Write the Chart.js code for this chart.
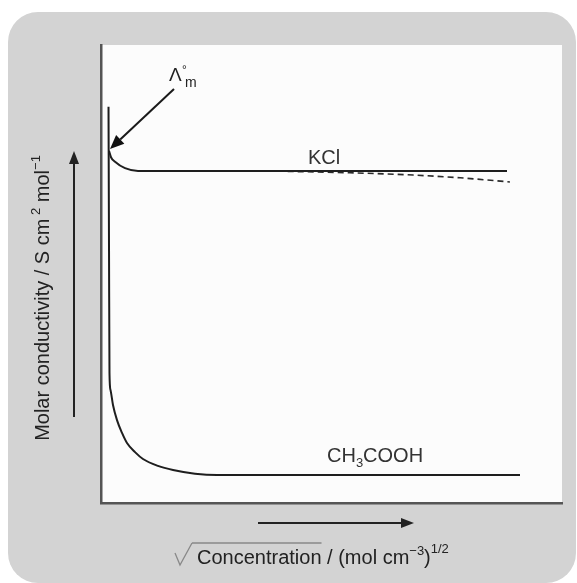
<!DOCTYPE html>
<html>
<head>
<meta charset="utf-8">
<script src="https://cdn.jsdelivr.net/npm/chart.js@4"></script>
<style>
  html, body { margin: 0; padding: 0; background: #fff; }
  canvas { display: block; }
</style>
</head>
<body>
<canvas id="chart" width="577" height="583"></canvas>
<script>
// Values, both axes in arbitrary units (0-100)
const ch3coohX = [1.63, 1.74, 1.84, 2.06, 2.6, 3.47, 4.56, 5.64, 7.38, 9.11, 12.36, 15.62, 20.39, 25.16, 90.89];
const ch3coohY = [86.5, 55.2, 28.4, 24.7, 21.4, 18.1, 15.3, 13.1, 11.1, 9.6, 8.1, 7.2, 6.4, 6.1, 6.1];

const kclX = [1.74, 2.17, 3.04, 5.21, 8.03, 88.07];
const kclY = [76.9, 75.5, 74.5, 73.1, 72.5, 72.5];

// dashed: deviation of KCl at higher concentration
const kclDevX = [40.5, 54.0, 67.7, 77.9, 88.7];
const kclDevY = [72.4, 72.1, 71.6, 71.0, 70.1];

const toPoints = (xs, ys) => xs.map((x, i) => ({ x: x, y: ys[i] }));

const FONT = '"Liberation Sans", Arial, sans-serif';

// draw a row of text pieces (normal / super / subscript) starting at x
function drawRuns(ctx, runs, x, y, center) {
    let total = 0;
    runs.forEach(r => {
        ctx.font = r.size + 'px ' + FONT;
        r.w = ctx.measureText(r.text).width;
        total += r.w;
    });
    let cx = center ? x - total / 2 : x;
    runs.forEach(r => {
        ctx.font = r.size + 'px ' + FONT;
        ctx.fillText(r.text, cx, y + (r.dy || 0));
        cx += r.w;
    });
    return total;
}

function arrow(ctx, x1, y1, x2, y2, head, half) {
    const ang = Math.atan2(y2 - y1, x2 - x1);
    const bx = x2 - head * Math.cos(ang);
    const by = y2 - head * Math.sin(ang);
    ctx.beginPath();
    ctx.moveTo(x1, y1);
    ctx.lineTo(bx, by);
    ctx.stroke();
    ctx.beginPath();
    ctx.moveTo(x2, y2);
    ctx.lineTo(bx + half * Math.sin(ang), by - half * Math.cos(ang));
    ctx.lineTo(bx - half * Math.sin(ang), by + half * Math.cos(ang));
    ctx.closePath();
    ctx.fill();
}

const backdrop = {
    id: 'backdrop',
    beforeDraw(chart) {
        const ctx = chart.ctx;
        const a = chart.chartArea;
        ctx.save();
        ctx.fillStyle = '#d3d3d3';
        ctx.beginPath();
        ctx.roundRect(8, 12, 568, 571, 30);
        ctx.fill();
        ctx.fillStyle = '#fcfcfc';
        ctx.fillRect(a.left, a.top, a.right - a.left, a.bottom - a.top);
        ctx.restore();
    }
};

const notes = {
    id: 'notes',
    afterDraw(chart) {
        const ctx = chart.ctx;
        ctx.save();
        ctx.fillStyle = '#222';
        ctx.strokeStyle = '#1a1a1a';
        ctx.textBaseline = 'alphabetic';

        // limiting molar conductivity label and pointer
        drawRuns(ctx, [{ text: 'Λ', size: 19 }], 169, 81);
        drawRuns(ctx, [{ text: '°', size: 12 }], 182, 74);
        drawRuns(ctx, [{ text: 'm', size: 14 }], 185, 87);
        ctx.fillStyle = '#111';
        ctx.lineWidth = 2;
        arrow(ctx, 174, 89, 110, 149, 14, 6);

        // curve labels
        ctx.fillStyle = '#333';
        drawRuns(ctx, [{ text: 'KCl', size: 20 }], 308, 164);
        drawRuns(ctx, [
            { text: 'CH', size: 20 },
            { text: '3', size: 13, dy: 5 },
            { text: 'COOH', size: 20 }
        ], 327, 462);

        // axis arrows
        ctx.fillStyle = '#222';
        ctx.strokeStyle = '#222';
        ctx.lineWidth = 2;
        arrow(ctx, 74, 417, 74, 151, 13, 5);
        arrow(ctx, 258, 523, 414, 523, 13, 5);

        // y title
        ctx.fillStyle = '#222';
        ctx.save();
        ctx.translate(49, 298);
        ctx.rotate(-Math.PI / 2);
        drawRuns(ctx, [
            { text: 'Molar conductivity / S cm', size: 20 },
            { text: ' 2', size: 13, dy: -9 },
            { text: ' mol', size: 20 },
            { text: '−1', size: 13, dy: -9 }
        ], 0, 0, true);
        ctx.restore();

        // x title with radical sign
        ctx.strokeStyle = '#888';
        ctx.lineWidth = 1.3;
        ctx.beginPath();
        ctx.moveTo(175, 553);
        ctx.lineTo(180, 565);
        ctx.lineTo(192, 543);
        ctx.stroke();
        const w = drawRuns(ctx, [{ text: 'Concentration', size: 20 }], 197, 564);
        ctx.beginPath();
        ctx.moveTo(192, 543);
        ctx.lineTo(197 + w, 543);
        ctx.stroke();
        drawRuns(ctx, [
            { text: ' / (mol cm', size: 20 },
            { text: '−3', size: 13, dy: -9 },
            { text: ')', size: 20 },
            { text: '1/2', size: 13, dy: -11 }
        ], 197 + w, 564);
        ctx.restore();
    }
};

new Chart(document.getElementById('chart'), {
    type: 'line',
    data: {
        datasets: [
            {
                label: 'CH3COOH',
                data: toPoints(ch3coohX, ch3coohY),
                borderColor: '#1e1e1e',
                borderWidth: 2,
                cubicInterpolationMode: 'monotone'
            },
            {
                label: 'KCl',
                data: toPoints(kclX, kclY),
                borderColor: '#1e1e1e',
                borderWidth: 2,
                cubicInterpolationMode: 'monotone'
            },
            {
                label: 'KCl (deviation)',
                data: toPoints(kclDevX, kclDevY),
                borderColor: '#2a2a2a',
                borderWidth: 1.6,
                borderDash: [6, 4],
                cubicInterpolationMode: 'monotone'
            }
        ]
    },
    options: {
        responsive: false,
        animation: false,
        layout: { padding: { left: 101, top: 45, right: 15, bottom: 80 } },
        elements: { point: { radius: 0 } },
        plugins: { legend: { display: false }, tooltip: { enabled: false } },
        scales: {
            x: {
                type: 'linear',
                min: 0,
                max: 100,
                ticks: { display: false },
                grid: { display: false, drawTicks: false },
                border: { display: true, color: '#555', width: 2.5 }
            },
            y: {
                type: 'linear',
                min: 0,
                max: 100,
                ticks: { display: false },
                grid: { display: false, drawTicks: false },
                border: { display: true, color: '#555', width: 2.5 }
            }
        }
    },
    plugins: [backdrop, notes]
});
</script>
</body>
</html>
